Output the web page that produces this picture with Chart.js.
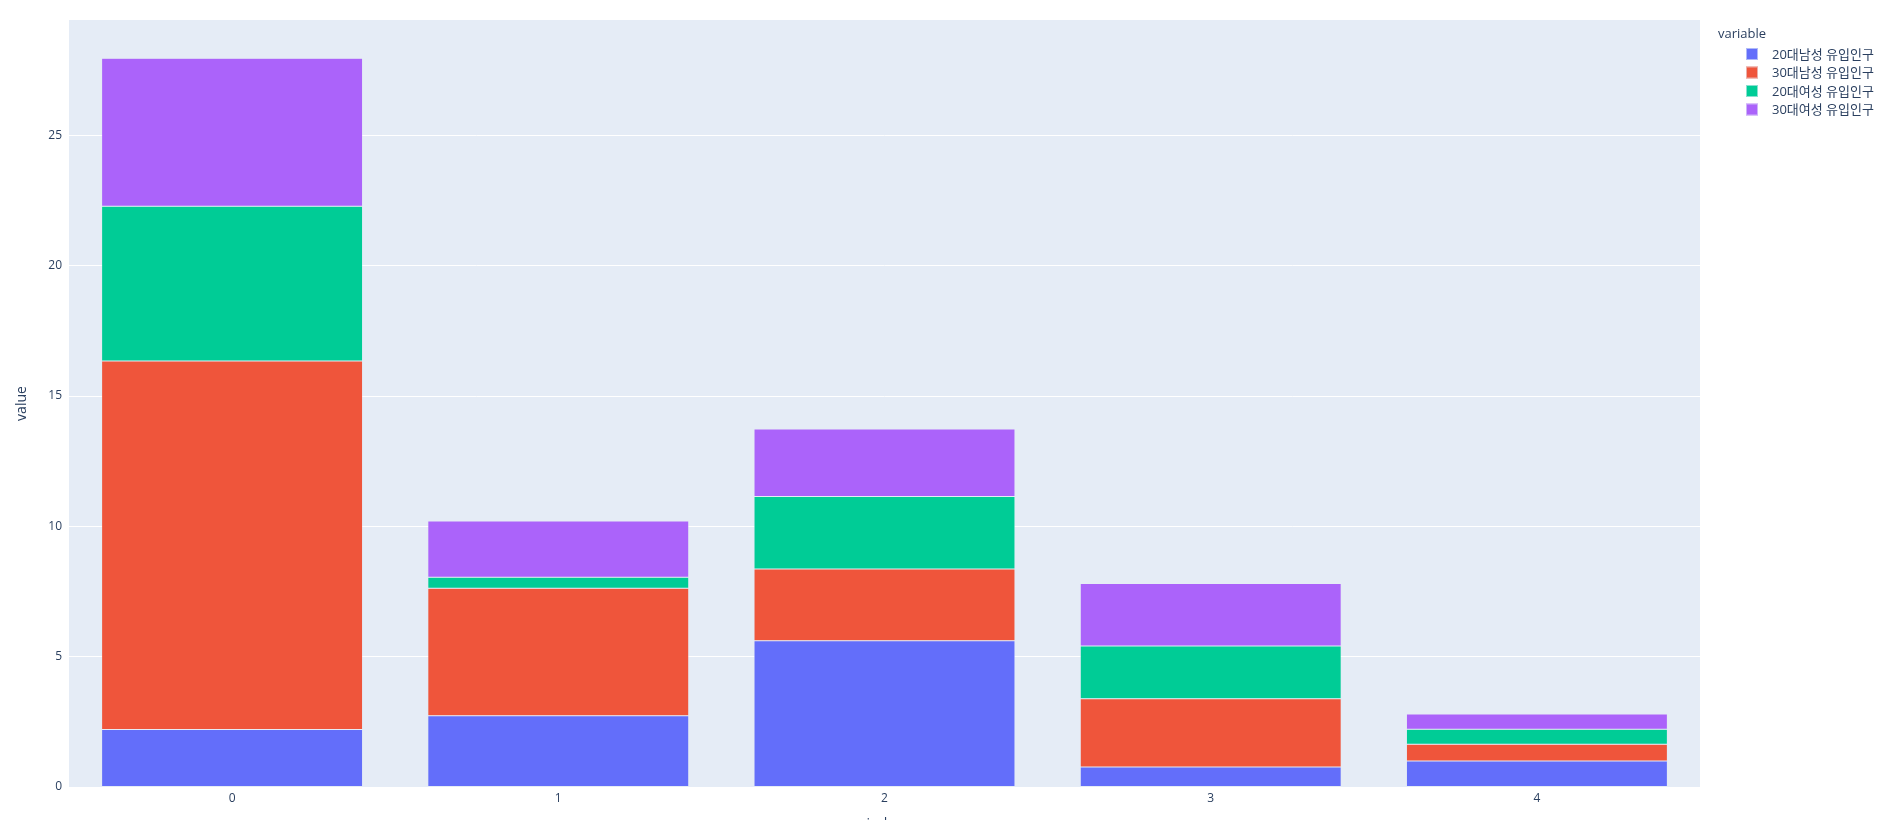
<!DOCTYPE html>
<html>
<head>
<meta charset="utf-8">
<script src="https://cdn.jsdelivr.net/npm/chart.js@4"></script>
<style>
  html, body { margin: 0; padding: 0; background: #fff; }
  #wrap { width: 1888px; height: 820px; }
</style>
</head>
<body>
<div id="wrap"><canvas id="myChart" width="1888" height="820"></canvas></div>
<script>
// chart data
const categories = ["0", "1", "2", "3", "4"];
const seriesNames = ["20대남성 유입인구", "30대남성 유입인구", "20대여성 유입인구", "30대여성 유입인구"];
const male20 = [2.21, 2.73, 5.61, 0.77, 1.00];
const male30 = [14.14, 4.90, 2.75, 2.62, 0.64];
const female20 = [5.93, 0.42, 2.79, 2.02, 0.58];
const female30 = [5.68, 2.16, 2.59, 2.40, 0.58];
const yTicks = [0, 5, 10, 15, 20, 25];

const colors = ["#636EFA", "#EF553B", "#00CC96", "#AB63FA"];
const FONT = "'Open Sans', 'Noto Sans CJK KR', sans-serif";
const TEXT = "#2a3f5f";

// plot background
const plotBg = {
  id: "plotBg",
  beforeDraw(chart) {
    const { ctx, chartArea: a } = chart;
    ctx.save();
    ctx.fillStyle = "#E5ECF6";
    ctx.fillRect(a.left, a.top, a.right - a.left, a.bottom - a.top);
    ctx.restore();
  }
};

// plotly-like legend on the right
const sideLegend = {
  id: "sideLegend",
  afterDraw(chart) {
    const ctx = chart.ctx;
    ctx.save();
    ctx.fillStyle = TEXT;
    ctx.textBaseline = "middle";
    ctx.textAlign = "left";
    ctx.font = "13px " + FONT;
    ctx.fillText("variable", 1718, 34);
    chart.data.datasets.forEach((ds, i) => {
      const y = 54 + i * 18.5;
      ctx.fillStyle = ds.backgroundColor;
      ctx.fillRect(1746, y - 6, 12, 12);
      ctx.strokeStyle = "rgba(229,236,246,0.6)";
      ctx.lineWidth = 1;
      ctx.strokeRect(1746.5, y - 5.5, 11, 11);
      ctx.fillStyle = TEXT;
      ctx.fillText(ds.label, 1772, y + 1);
    });
    ctx.restore();
  }
};

const seriesData = [male20, male30, female20, female30];

const ctx = document.getElementById("myChart").getContext("2d");

new Chart(ctx, {
  type: "bar",
  data: {
    labels: categories,
    datasets: seriesNames.map((name, i) => ({
      label: name,
      data: seriesData[i],
      backgroundColor: colors[i],
      borderColor: "rgba(229,236,246,0.9)",
      borderWidth: 0.5,
      borderSkipped: false,
      barPercentage: 0.8,
      categoryPercentage: 1.0
    }))
  },
  options: {
    responsive: false,
    animation: false,
    layout: { padding: { left: 0, right: 188, top: 20, bottom: 0 } },
    plugins: {
      legend: { display: false },
      tooltip: { enabled: false }
    },
    scales: {
      x: {
        stacked: true,
        grid: { display: false, drawTicks: false },
        border: { display: false },
        ticks: { color: TEXT, font: { family: FONT, size: 12 }, padding: 4, maxRotation: 0 },
        title: {
          display: true,
          text: "index",
          color: TEXT,
          font: { family: FONT, size: 14 },
          padding: { top: 0, bottom: -12 }
        },
        afterFit(scale) { scale.height = 33; }
      },
      y: {
        stacked: true,
        min: 0,
        max: 29.43,
        afterBuildTicks(scale) { scale.ticks = yTicks.map(v => ({ value: v })); },
        grid: { color: "#ffffff", lineWidth: 1, drawTicks: false },
        border: { display: false },
        ticks: { color: TEXT, font: { family: FONT, size: 12 }, padding: 7 },
        title: {
          display: true,
          text: "value",
          color: TEXT,
          font: { family: FONT, size: 14 },
          padding: { top: 14, bottom: 0 }
        },
        afterFit(scale) { scale.width = 69; }
      }
    }
  },
  plugins: [plotBg, sideLegend]
});
</script>
</body>
</html>
